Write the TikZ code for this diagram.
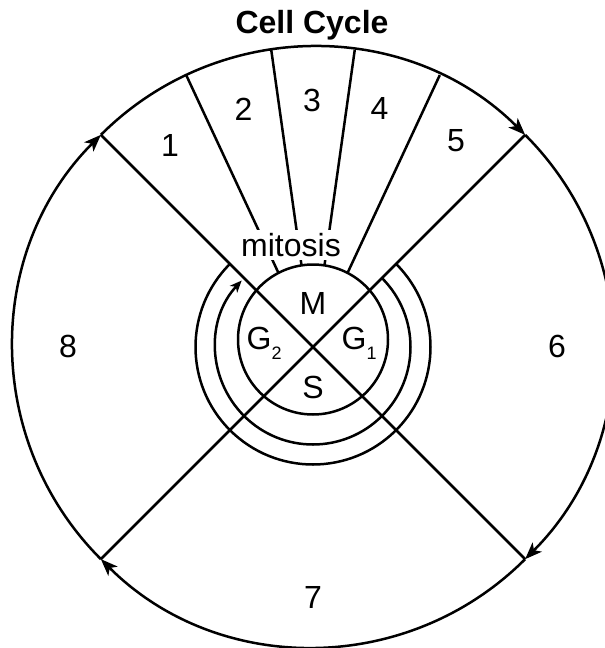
\documentclass[tikz,border=0pt]{standalone}
\usepackage{fontspec}
\setmainfont{Liberation Sans}
\usetikzlibrary{arrows.meta}
\newcommand{\subx}[1]{\raisebox{-10pt}{\fontsize{18}{18}\selectfont #1}}
\begin{document}
\begin{tikzpicture}[x=1pt,y=1pt,
  ln/.style={line width=2.5pt},
  bigtip/.style={-{Stealth[length=17pt,width=13pt,inset=4.5pt]}},
  smalltip/.style={-{Stealth[length=12pt,width=10pt,inset=3.5pt]}},
  lbl/.style={font=\fontsize{32}{38}\selectfont, inner sep=0pt, anchor=base},
]
\useasboundingbox (0,0) rectangle (605,-648);
\clip (0,0) rectangle (605,-648);
\coordinate (C) at (313,-347);
\coordinate (O) at (313,-339.5);
% corner points on the outer circle
\coordinate (P45) at ([shift={(C)}]45:300);
\coordinate (P135) at ([shift={(C)}]135:300);
\coordinate (P225) at ([shift={(C)}]225:300);
\coordinate (P315) at ([shift={(C)}]315:300);
% outer cycle arcs
\draw[ln,bigtip] (P135) arc[start angle=135,end angle=45,radius=300];
\draw[ln,bigtip] (P45) arc[start angle=45,end angle=-45,radius=300];
\draw[ln,bigtip] (P315) arc[start angle=-45,end angle=-135,radius=300];
\draw[ln,bigtip] (P225) arc[start angle=-135,end angle=-225,radius=300];
% diagonals
\draw[ln] (P135) -- (P315);
\draw[ln] (P45) -- (P225);
% mitosis dividers
\foreach \a/\r [count=\i] in {115/81.7, 98/82.4, 82/82.4, 65/81.7}{
  \coordinate (a\i) at ([shift={(C)}]\a:\r);
  \coordinate (b\i) at ([shift={(C)}]\a:300);
  \draw[ln] (a\i) -- (b\i);
}
% inner circle
\draw[ln] (O) circle[radius=75];
% rings
\coordinate (R1) at ([shift={(C)}]45:117.5);
\coordinate (R2) at ([shift={(C)}]45:97.5);
\draw[ln] (R1) arc[start angle=45,end angle=-225,radius=117.5];
\draw[ln,smalltip] (R2) arc[start angle=45,end angle=-223,radius=97.5];
% labels
\node[lbl, fill=white, inner sep=3pt] (mitosis) at (291,-253.3-3) {mitosis};
\node[font=\bfseries\fontsize{32}{38}\selectfont, anchor=base, inner sep=0pt] (title) at (312,-33) {Cell Cycle};
\node[lbl] (M) at (313,-314) {M};
\node[lbl] (S) at (313,-398) {S};
\node[lbl, anchor=base west] (G2) at (246.5,-349) {G\subx{2}};
\node[lbl, anchor=base west] (G1) at (341.5,-349) {G\subx{1}};
\node[lbl] (n1) at (170,-156) {1};
\node[lbl] (n2) at (243.5,-120) {2};
\node[lbl] (n3) at (312,-111.5) {3};
\node[lbl] (n4) at (379.5,-119) {4};
\node[lbl] (n5) at (456,-151) {5};
\node[lbl] (n6) at (557,-357) {6};
\node[lbl] (n7) at (313,-608) {7};
\node[lbl] (n8) at (68,-357) {8};
\end{tikzpicture}
\end{document}
